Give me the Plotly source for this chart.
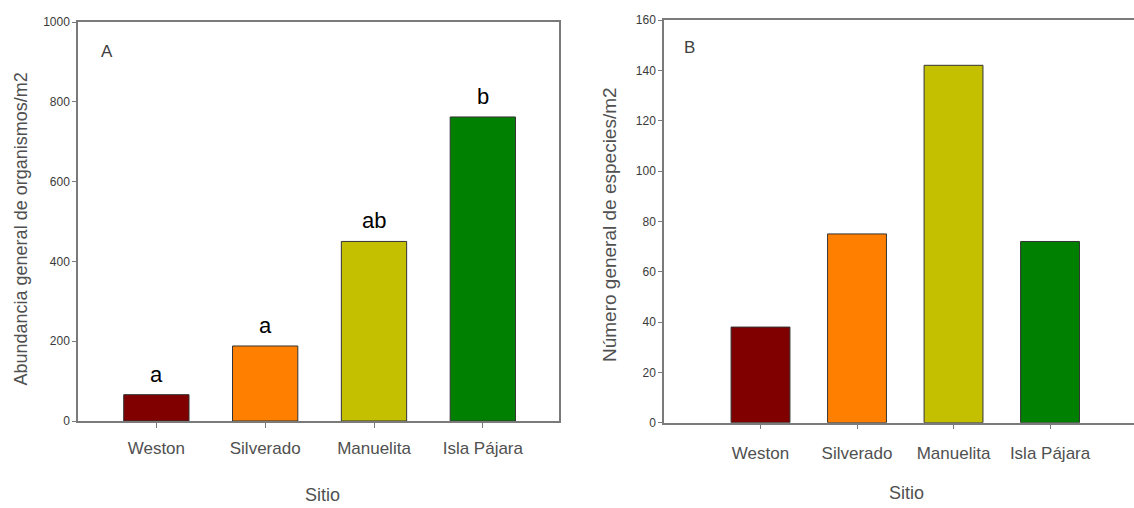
import plotly.graph_objects as go

sites = ["Weston", "Silverado", "Manuelita", "Isla Pájara"]
abundance = [66, 188, 450, 762]
species = [38, 75, 142, 72]
letters = ["a", "a", "ab", "b"]
bar_colors = ["#800000", "#ff8000", "#c4c000", "#008000"]
ticks_a = [0, 200, 400, 600, 800, 1000]
ticks_b = [0, 20, 40, 60, 80, 100, 120, 140, 160]

W, H = 1134, 508
FONT = "Liberation Sans, Arial, sans-serif"
AX = "#7a7a7a"
TXT = "#505050"

fig = go.Figure()
fig.add_trace(go.Bar(x=sites, y=abundance, marker=dict(color=bar_colors, line=dict(color="#333333", width=1)),
                     width=0.6, xaxis="x", yaxis="y", showlegend=False))
fig.add_trace(go.Bar(x=sites, y=species, marker=dict(color=bar_colors, line=dict(color="#333333", width=1)),
                     width=0.61, xaxis="x2", yaxis="y2", showlegend=False))

axis_common = dict(showgrid=False, zeroline=False, showline=True, linecolor=AX, linewidth=1.5,
                   ticks="outside", tickcolor=AX, tickwidth=1.2, automargin=False)

fig.update_layout(
    width=W, height=H, margin=dict(l=0, r=0, t=0, b=0),
    paper_bgcolor="white", plot_bgcolor="white",
    font=dict(family=FONT, color=TXT),
    xaxis=dict(domain=[78 / W, 559 / W], range=[-0.72, 3.70], anchor="y", mirror=True,
               ticklen=5, tickfont=dict(size=17, color=TXT), ticklabelstandoff=6, **axis_common),
    yaxis=dict(domain=[1 - 421 / H, 1 - 22 / H], range=[0, 1000], anchor="x", mirror=True,
               tickvals=ticks_a, ticklen=4, tickfont=dict(size=12, color="#3a3a3a"), **axis_common),
    xaxis2=dict(domain=[664 / W, 1.0], range=[-1.0, 3.87], anchor="y2", mirror=True,
                ticklen=5, tickfont=dict(size=17, color=TXT), ticklabelstandoff=9, **axis_common),
    yaxis2=dict(domain=[1 - 422.7 / H, 1 - 20 / H], range=[0, 160], anchor="x2",
                tickvals=ticks_b, ticklen=4, tickfont=dict(size=12, color="#3a3a3a"), **axis_common),
    bargap=0.4,
)

def pann(x, y, text, size, color=TXT, angle=0):
    return dict(x=x / W, y=1 - y / H, xref="paper", yref="paper", text=text, showarrow=False,
                xanchor="center", yanchor="middle", textangle=angle,
                font=dict(size=size, color=color, family=FONT))

ann = []
for s, v, l in zip(sites, abundance, letters):
    ann.append(dict(x=s, y=v, xref="x", yref="y", text=l, showarrow=False, xanchor="center",
                    yanchor="bottom", yshift=6, font=dict(size=22, color="black", family=FONT)))
ann += [
    pann(107, 51, "A", 17, "#404040"),
    pann(689, 47, "B", 17, "#404040"),
    pann(20.5, 229, "Abundancia general de organismos/m2", 18, TXT, -90),
    pann(609, 225, "Número general de especies/m2", 19, TXT, -90),
    pann(322, 495, "Sitio", 18),
    pann(906, 493, "Sitio", 18),
]
fig.update_layout(annotations=ann)

fig.write_html("out.html")
